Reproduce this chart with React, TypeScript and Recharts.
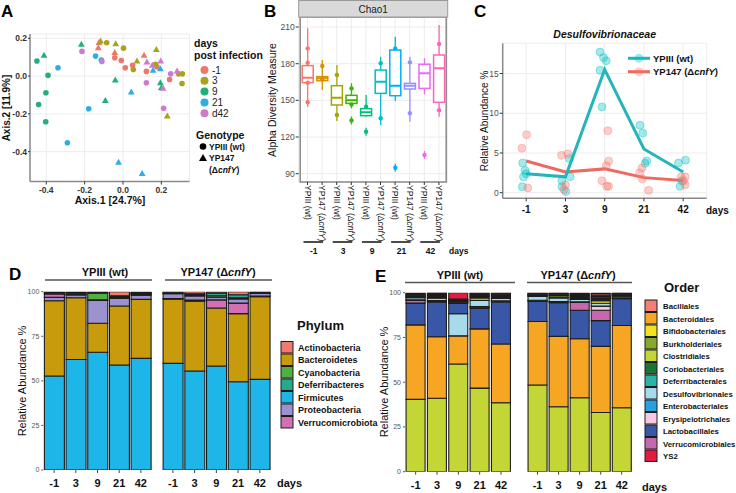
import React from "react";
import {
  ScatterChart,
  Scatter,
  XAxis,
  YAxis,
  CartesianGrid,
  ReferenceArea,
  ComposedChart,
  Bar,
  Line,
  BarChart,
} from "recharts";

const FONT = '"Liberation Sans", Arial, Helvetica, sans-serif';

// ---------- A: PCoA ----------
const dayNames = ["-1", "3", "9", "21", "d42"];
const dayColors = ["#F0766C", "#A8A31C", "#22AF79", "#2FAEE6", "#CC7ACB"];

const wtAxis1 = [-0.449, -0.391, -0.402, -0.44, -0.403, -0.339, -0.143, -0.113, -0.179, -0.29, -0.043, -0.009, 0.012, 0.05, 0.122, 0.177, 0.243, -0.085, 0.003, 0.054, 0.17, 0.29, 0.31, 0.308, -0.214, -0.11, 0.122, 0.249, 0.212];
const wtAxis2 = [0.08, 0.004, -0.088, -0.15, -0.242, 0.044, 0.106, 0.085, -0.173, -0.353, 0.097, 0.083, 0.044, 0.057, 0.025, 0.049, -0.018, 0.177, 0.148, 0.035, 0.062, 0.012, 0.012, -0.039, 0.131, 0.078, -0.035, 0.012, -0.17];
const wtDay = [2, 2, 2, 2, 2, 3, 3, 3, 3, 3, 0, 0, 0, 0, 0, 0, 0, 1, 1, 1, 1, 1, 1, 1, 4, 4, 4, 4, 4];
const mutAxis1 = [-0.412, -0.217, -0.04, -0.092, 0.195, 0.2, 0.043, 0.157, 0.195, -0.023, 0.1, -0.125, -0.129, -0.043, 0.11, -0.117, -0.038, 0.073, 0.174, 0.231, 0.125, 0.153, 0.197, 0.282, 0.209];
const mutAxis2 = [0.11, 0.168, -0.021, -0.129, -0.035, -0.062, -0.085, 0.03, 0.039, -0.456, -0.516, 0.177, 0.15, 0.124, 0.11, 0.186, 0.171, 0.08, 0.141, -0.212, 0.074, 0.057, 0.08, 0.026, -0.065];
const mutDay = [2, 2, 2, 2, 2, 2, 3, 3, 3, 3, 3, 0, 0, 0, 0, 1, 1, 1, 1, 1, 4, 4, 4, 4, 4];

// ---------- B: Chao1 ----------
const chaoGroups = ["-1", "3", "9", "21", "42"];
const chaoColors = ["#F8766D", "#D89000", "#A3A500", "#39B600", "#00BF7D", "#00BFC4", "#00B0F6", "#9590FF", "#E76BF3", "#FF62BC"];
const chaoWhiskerLo = [144.8, 158.5, 133.1, 143.5, 136.6, 129.8, 149.5, 132.5, 154.9, 136.6];
const chaoQ1 = [164.5, 166.1, 146.2, 147.5, 137.5, 155.7, 153.8, 159.3, 159.8, 148.4];
const chaoMedian = [168.5, 168, 152.2, 150, 140.2, 165.3, 162, 162, 172.1, 176.2];
const chaoQ3 = [178.4, 169.4, 162, 154.1, 143.2, 174.8, 191.2, 163.9, 179.5, 187.1];
const chaoWhiskerHi = [208.9, 183, 178.9, 163.9, 154.4, 185.7, 202.1, 185.7, 184.4, 211.6];
const chaoPoints = [
  [192.5, 180.8, 164.5, 148.4],
  [178.1, 168, 167],
  [170.7, 138],
  [159.8, 146.7, 133.6],
  [144.8, 124.4],
  [180.3, 135.3],
  [192.5, 94.9],
  [181.1, 139.4],
  [105.3],
  [196.1, 142],
];

// ---------- C: Desulfovibrionaceae ----------
const cDays = ["-1", "3", "9", "21", "42"];
const wtJitterX = [0.91, 0.97, 1.0, 0.93, 0.9, 2.1, 2.12, 1.91, 1.91, 2.01, 2.88, 2.97, 3.04, 2.88, 2.93, 3.9, 3.97, 4.07, 4.03, 4.88, 5.06, 4.92, 4.97];
const wtPct = [3.75, 2.8, 2.4, 2.0, 0.75, 4.3, 2.0, 1.5, 0.75, 0.15, 17.7, 17.0, 16.6, 15.4, 10.8, 8.5, 7.5, 4.0, 3.7, 3.75, 4.1, 0.8, 1.5];
const mutJitterX = [1.01, 0.89, 1.04, 1.9, 2.06, 2.0, 1.96, 3.08, 3.1, 3.04, 2.93, 3.05, 3.1, 3.95, 3.89, 3.96, 4.12, 4.95, 5.05, 5.01, 5.05];
const mutPct = [7.3, 5.6, 0.6, 4.7, 4.9, 1.0, 0.4, 7.8, 4.0, 3.4, 1.5, 0.8, 0.8, 3.1, 2.5, 1.75, 0.3, 2.0, 2.0, 1.5, 1.0];
const wtMean = [2.4, 2.0, 15.5, 5.5, 2.6];
const mutMean = [4.0, 2.6, 3.0, 1.9, 1.55];

// ---------- D: Phylum ----------
const days = ["-1", "3", "9", "21", "42"];
const phylumNames = ["Actinobacteria", "Bacteroidetes", "Cyanobacteria", "Deferribacteres", "Firmicutes", "Proteobacteria", "Verrucomicrobiota"];
const phylumColors = ["#EF7B6F", "#C89B0C", "#50B041", "#27A98C", "#1EB5E8", "#9C92CF", "#D36FB5"];
const phylumStackWt = ["Firmicutes", "Bacteroidetes", "Proteobacteria", "Verrucomicrobiota", "Cyanobacteria", "Deferribacteres", "Actinobacteria"];
const phylumValuesWt = [
  [52.7, 62, 66, 58.9, 62.6],
  [42.2, 34.6, 16.3, 33.1, 33.1],
  [1.9, 1.6, 12.8, 4.2, 2.4],
  [1.9, 0.4, 0.3, 0.5, 0.4],
  [0.4, 0.5, 3.8, 0.5, 0.5],
  [0.5, 0.5, 0.4, 0.5, 0.5],
  [0.4, 0.4, 0.4, 2.3, 0.5],
];
const phylumStackMut = ["Firmicutes", "Bacteroidetes", "Verrucomicrobiota", "Proteobacteria", "Cyanobacteria", "Deferribacteres", "Actinobacteria"];
const phylumValuesMut = [
  [59.8, 55.5, 58.3, 49.5, 50.8],
  [36, 39.2, 32.6, 38.2, 46.4],
  [0.4, 0.6, 4.5, 5.9, 0.4],
  [2.7, 2.3, 1.5, 2.4, 1.4],
  [0.4, 0.6, 0.8, 0.6, 0.5],
  [0.4, 0.6, 1.5, 1.7, 0.3],
  [0.3, 1.2, 0.8, 1.7, 0.2],
];

// ---------- E: Order ----------
const orderNames = ["Bacillales", "Bacteroidales", "Bifidobacteriales", "Burkholderiales", "Clostridiales", "Coriobacteriales", "Deferribacterales", "Desulfovibrionales", "Enterobacteriales", "Erysipelotrichales", "Lactobacillales", "Verrucomicrobiales", "YS2"];
const orderColors = ["#F27F73", "#F6A623", "#F2E21F", "#87A92B", "#C4D636", "#1B7434", "#2BB3A4", "#A7DAEA", "#2A9FDE", "#F6C9E0", "#3857A7", "#C568AE", "#E51A43"];
const orderStackWt = ["Clostridiales", "Bacteroidales", "Desulfovibrionales", "Lactobacillales", "Verrucomicrobiales", "Erysipelotrichales", "Desulfovibrionales", "Bifidobacteriales", "Burkholderiales", "Coriobacteriales", "Deferribacterales", "Enterobacteriales", "Bacillales", "YS2"];
const orderValuesWt = [
  [40.4, 41, 60.2, 46.7, 38.5],
  [41.6, 34.4, 15.7, 33.1, 32.8],
  [0, 0, 12.3, 0, 0],
  [12.2, 19.5, 5.8, 11.6, 23.5],
  [1.5, 0.4, 0.4, 0.5, 0.4],
  [0.3, 0.3, 0.3, 0.4, 0.3],
  [1.2, 1.3, 0, 3.4, 1.3],
  [0.3, 0.4, 0.3, 1.3, 0.4],
  [0.3, 0.5, 0.3, 0.6, 0.5],
  [0.4, 0.5, 0.3, 0.5, 0.5],
  [0.4, 0.5, 0.3, 0.6, 0.5],
  [0.4, 0.5, 0.3, 0.6, 0.5],
  [0.5, 0.6, 0.2, 0.4, 0.5],
  [0.5, 0.1, 3.6, 0.3, 0.3],
];
const orderStackMut = ["Clostridiales", "Bacteroidales", "Lactobacillales", "Verrucomicrobiales", "Erysipelotrichales", "Desulfovibrionales", "Bifidobacteriales", "Burkholderiales", "Coriobacteriales", "Deferribacterales", "Enterobacteriales", "Bacillales", "YS2"];
const orderValuesMut = [
  [48.4, 36.3, 41.3, 33.1, 35.7],
  [35.5, 39.3, 33, 36.9, 46],
  [11.4, 18.8, 15.9, 14.4, 15],
  [0.3, 0.4, 4.3, 5.8, 0.3],
  [0.2, 0.3, 0.4, 2.3, 0.2],
  [2.1, 1.9, 1.3, 1.6, 0.8],
  [0.3, 0.5, 0.4, 1.5, 0.2],
  [0.3, 0.9, 0.5, 0.8, 0.3],
  [0.3, 0.4, 0.5, 0.7, 0.4],
  [0.3, 0.4, 0.6, 0.8, 0.3],
  [0.3, 0.3, 0.6, 0.7, 0.3],
  [0.3, 0.3, 0.6, 0.8, 0.3],
  [0.3, 0.2, 0.6, 0.6, 0.2],
];

const BORDER = "#8a8a8a";
const GRID = "#ececec";
const B_BAND = 14.6;
const frameLine = { stroke: BORDER, strokeWidth: 1.5 };

function Mut({ italicOnly }: { italicOnly?: boolean }) {
  return (
    <>
      {italicOnly ? null : "YP147 "}(Δ<tspan fontStyle="italic">cnfY</tspan>)
    </>
  );
}

function PanelA() {
  const wt = wtAxis1.map((x, i) => ({ x, y: wtAxis2[i], day: wtDay[i] }));
  const mut = mutAxis1.map((x, i) => ({ x, y: mutAxis2[i], day: mutDay[i] }));
  const tick = { fontSize: 8.5, fill: "#333", fontWeight: "bold", fontFamily: FONT };
  const xDom: [number, number] = [-0.485, 0.347];
  const yDom: [number, number] = [-0.558, 0.223];
  return (
    <div style={{ position: "absolute", left: 0, top: 0 }}>
      <ScatterChart width={190} height={212} margin={{ top: 34, right: 0.5, bottom: 0, left: 0 }}>
        <CartesianGrid stroke={GRID} />
        <XAxis type="number" dataKey="x" domain={xDom} ticks={[-0.4, -0.2, 0, 0.2]} allowDataOverflow tickFormatter={(v: number) => v.toFixed(1)} height={30.5} tick={tick} tickLine={{ stroke: "#333" }} tickSize={3} axisLine={frameLine} />
        <XAxis xAxisId="top" orientation="top" type="number" domain={xDom} allowDataOverflow height={0} tick={false} tickLine={false} axisLine={frameLine} />
        <YAxis type="number" dataKey="y" domain={yDom} ticks={[-0.4, -0.2, 0, 0.2]} allowDataOverflow tickFormatter={(v: number) => v.toFixed(1)} width={30} tick={tick} tickLine={{ stroke: "#333" }} tickSize={2} tickMargin={1} axisLine={frameLine} />
        <YAxis yAxisId="right" orientation="right" type="number" domain={yDom} allowDataOverflow width={0} tick={false} tickLine={false} axisLine={frameLine} />
        <Scatter
          data={wt}
          isAnimationActive={false}
          shape={(p: any) => <circle cx={p.cx} cy={p.cy} r={2.8} fill={dayColors[p.payload.day]} />}
        />
        <Scatter
          data={mut}
          isAnimationActive={false}
          shape={(p: any) => (
            <polygon
              points={`${p.cx},${p.cy - 3.6} ${p.cx - 3.4},${p.cy + 2.4} ${p.cx + 3.4},${p.cy + 2.4}`}
              fill={dayColors[p.payload.day]}
            />
          )}
        />
      </ScatterChart>
    </div>
  );
}

function BoxShape(props: any) {
  const { x, y, width, height, payload, index } = props;
  const top = Math.min(y, y + height);
  const bot = Math.max(y, y + height);
  const hi = payload.whi;
  const lo = payload.wlo;
  const py = (v: number) => top + ((hi - v) / (hi - lo)) * (bot - top);
  const cx = x + width / 2;
  const c = chaoColors[index];
  return (
    <g>
      <line x1={cx} x2={cx} y1={py(hi)} y2={py(lo)} stroke={c} strokeWidth={1.3} />
      <rect x={x} y={py(payload.q3)} width={width} height={py(payload.q1) - py(payload.q3)} fill="#fff" stroke={c} strokeWidth={1.5} />
      <line x1={x} x2={x + width} y1={py(payload.med)} y2={py(payload.med)} stroke={c} strokeWidth={2} />
      {payload.pts.map((v: number, k: number) => {
        const out = v < lo || v > hi;
        return (
          <g key={k}>
            {out ? <line x1={cx} x2={cx} y1={py(v) - 4} y2={py(v) + 4} stroke={c} strokeWidth={1.3} /> : null}
            <circle cx={cx} cy={py(v)} r={2.2} fill={c} />
          </g>
        );
      })}
    </g>
  );
}

function ChaoTick(props: any) {
  const { x, y, index } = props;
  const isMut = index % 2 === 1;
  return (
    <g fontFamily={FONT}>
      <text transform={`translate(${x - 3},${y}) rotate(90)`} fontSize={8.5} fill="#1a1a1a">
        {isMut ? <Mut /> : "YPIII (wt)"}
      </text>
      {isMut ? (
        <>
          <line x1={x - B_BAND - 4} x2={x + 1} y1={y + 57} y2={y + 57} stroke="#111" strokeWidth={1.5} />
          <text x={x - B_BAND / 2 - 1} y={y + 69} textAnchor="middle" fontSize={8.5} fontWeight="bold" fill="#111">
            {chaoGroups[(index - 1) / 2]}
          </text>
        </>
      ) : null}
    </g>
  );
}

function PanelB() {
  const data = chaoColors.map((_, i) => ({
    id: `g${i}`,
    wlo: chaoWhiskerLo[i],
    whi: chaoWhiskerHi[i],
    q1: chaoQ1[i],
    q3: chaoQ3[i],
    med: chaoMedian[i],
    pts: chaoPoints[i],
  }));
  return (
    <div style={{ position: "absolute", left: 262, top: 0 }}>
      <ComposedChart width={186} height={262} data={data} margin={{ top: 17, right: 0.3, bottom: 0, left: 0 }}>
        <CartesianGrid stroke={GRID} />
        <XAxis dataKey="id" type="category" interval={0} height={80} padding={{ left: 1.5, right: 1.5 }} tick={<ChaoTick />} tickLine={{ stroke: "#333" }} tickSize={3} tickMargin={0} axisLine={false} />
        <YAxis type="number" domain={[83.2, 218.2]} ticks={[90, 120, 150, 180, 210]} allowDataOverflow width={36.7} tick={{ fontSize: 8.5, fill: "#4d4d4d", fontFamily: FONT }} tickLine={{ stroke: "#333" }} tickSize={3} tickMargin={1} axisLine={false} />
        <ReferenceArea y1={83.2} y2={218.2} fill="none" stroke={BORDER} strokeWidth={1.5} ifOverflow="visible" />
        <Bar dataKey={(d: any) => [d.wlo, d.whi]} barSize={11} shape={<BoxShape />} isAnimationActive={false} />
      </ComposedChart>
    </div>
  );
}

function PanelC() {
  const rows = wtMean.map((v, i) => ({ x: i + 1, wt: v, mut: mutMean[i] }));
  const wtPts = wtJitterX.map((x, i) => ({ x, y: wtPct[i] }));
  const mutPts = mutJitterX.map((x, i) => ({ x, y: mutPct[i] }));
  const xDom: [number, number] = [0.4, 5.6];
  const yDom: [number, number] = [-0.7, 18.8];
  const dot = (color: string) => (p: any) => (
    <circle cx={p.cx} cy={p.cy} r={4} fill={color} fillOpacity={0.35} stroke={color} strokeOpacity={0.45} strokeWidth={0.8} />
  );
  return (
    <div style={{ position: "absolute", left: 480, top: 30 }}>
      <ComposedChart width={228} height={193.3} data={rows} margin={{ top: 13.3, right: 1.3, bottom: 0, left: 0 }}>
        <CartesianGrid stroke={GRID} />
        <XAxis type="number" dataKey="x" domain={xDom} ticks={[1, 2, 3, 4, 5]} allowDataOverflow tickFormatter={(v: number) => cDays[v - 1]} height={25} tick={{ fontSize: 10, fontWeight: "bold", fill: "#111", fontFamily: FONT }} tickLine={{ stroke: "#333" }} tickSize={3} tickMargin={5} axisLine={frameLine} />
        <XAxis xAxisId="top" orientation="top" type="number" domain={xDom} allowDataOverflow height={0} tick={false} tickLine={false} axisLine={frameLine} />
        <YAxis type="number" domain={yDom} ticks={[0, 5, 10, 15]} allowDataOverflow width={22.7} tick={{ fontSize: 8.5, fill: "#4d4d4d", fontFamily: FONT }} tickLine={{ stroke: "#333" }} tickSize={3} tickMargin={1} axisLine={frameLine} />
        <YAxis yAxisId="right" orientation="right" type="number" domain={yDom} allowDataOverflow width={0} tick={false} tickLine={false} axisLine={frameLine} />
        <Scatter data={wtPts} dataKey="y" isAnimationActive={false} shape={dot("#00BFC4")} />
        <Scatter data={mutPts} dataKey="y" isAnimationActive={false} shape={dot("#F8766D")} />
        <Line dataKey="mut" stroke="#EC6A5F" strokeWidth={3} dot={false} isAnimationActive={false} />
        <Line dataKey="wt" stroke="#22B5BC" strokeWidth={3} dot={false} isAnimationActive={false} />
      </ComposedChart>
    </div>
  );
}

function DayTick(props: any) {
  const { x, y, payload } = props;
  return (
    <text x={x} y={y + 12} textAnchor="middle" fontSize={11} fontWeight="bold" fill="#111" fontFamily={FONT}>
      {payload.value}
    </text>
  );
}

function Facet(props: {
  left: number;
  top: number;
  width: number;
  height: number;
  yWidth: number;
  showY: boolean;
  stack: string[];
  values: number[][];
  names: string[];
  colors: string[];
}) {
  const { left, top, width, height, yWidth, showY, stack, values, names, colors } = props;
  const data = days.map((d, i) => {
    const row: any = { day: d };
    stack.forEach((_, s) => {
      row[`s${s}`] = values[s][i];
    });
    return row;
  });
  return (
    <div style={{ position: "absolute", left, top }}>
      <BarChart width={width} height={height} data={data} margin={{ top: 6.7, right: 0.3, bottom: 0, left: 0 }} barCategoryGap="5%">
        <XAxis dataKey="day" interval={0} height={20} tick={<DayTick />} tickLine={{ stroke: "#444" }} tickSize={3} tickMargin={2} axisLine={false} />
        <YAxis hide={!showY} width={yWidth} type="number" domain={[0, 100]} ticks={[0, 25, 50, 75, 100]} allowDataOverflow tick={{ fontSize: 7, fill: "#555", fontFamily: FONT }} tickLine={{ stroke: "#555" }} tickSize={2} axisLine={false} />
        {stack.map((name, s) => (
          <Bar key={`s${s}`} dataKey={`s${s}`} stackId="a" fill={colors[names.indexOf(name)]} stroke="#1c1c1c" strokeWidth={1.1} isAnimationActive={false} />
        ))}
      </BarChart>
    </div>
  );
}

function Overlay() {
  const letter = { fontSize: 17, fontWeight: "bold" as const, fill: "#000" };
  return (
    <svg width={736} height={493} style={{ position: "absolute", left: 0, top: 0, pointerEvents: "none" }} fontFamily={FONT}>
      {/* panel letters */}
      <text x={1} y={17} {...letter}>A</text>
      <text x={264} y={17} {...letter}>B</text>
      <text x={474} y={17} {...letter}>C</text>
      <text x={9} y={280} {...letter}>D</text>
      <text x={375} y={282} {...letter}>E</text>

      {/* A titles + legend */}
      <text x={110} y={204} textAnchor="middle" fontSize={10.5} fontWeight="bold" fill="#111">Axis.1   [24.7%]</text>
      <text transform="translate(10,108) rotate(-90)" textAnchor="middle" fontSize={10} fontWeight="bold" fill="#111">Axis.2   [11.9%]</text>
      <text x={194} y={47} fontSize={10.5} fontWeight="bold" fill="#111">days</text>
      <text x={194} y={58.5} fontSize={10.5} fontWeight="bold" fill="#111">post infection</text>
      {dayNames.map((d, i) => (
        <g key={d}>
          <circle cx={204.5} cy={70 + i * 10.8} r={4} fill={dayColors[i]} />
          <text x={212} y={73.5 + i * 10.8} fontSize={10} fill="#222">{d}</text>
        </g>
      ))}
      <text x={196} y={139} fontSize={10.5} fontWeight="bold" fill="#111">Genotype</text>
      <circle cx={203} cy={146.5} r={3.3} fill="#000" />
      <text x={209} y={149.5} fontSize={8.5} fontWeight="bold" fill="#111">YPIII (wt)</text>
      <polygon points="203,154 199,161 207,161" fill="#000" />
      <text x={209} y={161} fontSize={8.5} fontWeight="bold" fill="#111">YP147</text>
      <text x={209} y={172.5} fontSize={8.5} fontWeight="bold" fill="#111"><Mut italicOnly /></text>

      {/* B strip + titles */}
      <rect x={298.7} y={0.5} width={149} height={16.5} fill="#d9d9d9" stroke="#9a9a9a" strokeWidth={1} />
      <text x={373.2} y={12.5} textAnchor="middle" fontSize={10} fill="#1a1a1a">Chao1</text>
      <text transform="translate(276,100) rotate(-90)" textAnchor="middle" fontSize={10.5} fill="#111">Alpha Diversity Measure</text>
      <text x={449} y={254} fontSize={8.5} fontWeight="bold" fill="#111">days</text>

      {/* C titles + legend */}
      <text x={604.7} y={38} textAnchor="middle" fontSize={10.5} fontWeight="bold" fontStyle="italic" fill="#111">Desulfovibrionaceae</text>
      <text transform="translate(488,121) rotate(-90)" textAnchor="middle" fontSize={10} fill="#111">Relative Abundance %</text>
      <text x={706} y={214} fontSize={10} fontWeight="bold" fill="#111">days</text>
      <line x1={628} x2={650} y1={58.3} y2={58.3} stroke="#22B5BC" strokeWidth={3} />
      <circle cx={639} cy={58.3} r={4.5} fill="#00BFC4" fillOpacity={0.35} />
      <text x={653} y={61.8} fontSize={9.5} fontWeight="bold" fill="#111">YPIII (wt)</text>
      <line x1={628} x2={650} y1={71.7} y2={71.7} stroke="#EC6A5F" strokeWidth={3} />
      <circle cx={639} cy={71.7} r={4.5} fill="#F8766D" fillOpacity={0.35} />
      <text x={653} y={75.2} fontSize={9.5} fontWeight="bold" fill="#111"><Mut /></text>

      {/* D headers, titles, legend */}
      <text x={105} y={276} textAnchor="middle" fontSize={11} fontWeight="bold" fill="#111">YPIII (wt)</text>
      <line x1={45} x2={152} y1={280} y2={280} stroke="#555" strokeWidth={1.3} />
      <text x={218} y={276} textAnchor="middle" fontSize={11} fontWeight="bold" fill="#111"><Mut /></text>
      <line x1={165} x2={272} y1={280} y2={280} stroke="#555" strokeWidth={1.3} />
      <text transform="translate(26,381) rotate(-90)" textAnchor="middle" fontSize={11} fill="#111">Relative Abundance %</text>
      <text x={277} y={487} fontSize={11} fontWeight="bold" fill="#111">days</text>
      <text x={297} y={330} fontSize={13} fontWeight="bold" fill="#111">Phylum</text>
      {phylumNames.map((n, i) => (
        <g key={n}>
          <rect x={281} y={341.5 + i * 12.5} width={12} height={11.5} fill={phylumColors[i]} stroke="#1c1c1c" strokeWidth={1} />
          <text x={298} y={350.5 + i * 12.5} fontSize={9} fontWeight="bold" fill="#111">{n}</text>
        </g>
      ))}

      {/* E headers, titles, legend */}
      <text x={460} y={279} textAnchor="middle" fontSize={11} fontWeight="bold" fill="#111">YPIII (wt)</text>
      <line x1={405} x2={515} y1={282.5} y2={282.5} stroke="#555" strokeWidth={1.3} />
      <text x={578} y={279} textAnchor="middle" fontSize={11} fontWeight="bold" fill="#111"><Mut /></text>
      <line x1={527} x2={632} y1={282.5} y2={282.5} stroke="#555" strokeWidth={1.3} />
      <text transform="translate(388,382) rotate(-90)" textAnchor="middle" fontSize={11} fill="#111">Relative Abundance %</text>
      <text x={642} y={491} fontSize={11} fontWeight="bold" fill="#111">days</text>
      <text x={664} y={292} fontSize={13} fontWeight="bold" fill="#111">Order</text>
      {orderNames.map((n, i) => (
        <g key={n}>
          <rect x={645} y={300 + i * 12.5} width={12} height={11.5} fill={orderColors[i]} stroke="#1c1c1c" strokeWidth={1} />
          <text x={663} y={309 + i * 12.5} fontSize={7.8} fontWeight="bold" fill="#111">{n}</text>
        </g>
      ))}
    </svg>
  );
}

export default function App() {
  return (
    <div style={{ position: "absolute", left: 0, top: 0, width: 736, height: 493, overflow: "hidden", background: "#fff", fontFamily: FONT }}>
      <PanelA />
      <PanelB />
      <PanelC />
      <Facet left={0} top={285} width={152} height={205} yWidth={43.3} showY stack={phylumStackWt} values={phylumValuesWt} names={phylumNames} colors={phylumColors} />
      <Facet left={162} top={285} width={109} height={205} yWidth={0} showY={false} stack={phylumStackMut} values={phylumValuesMut} names={phylumNames} colors={phylumColors} />
      <Facet left={362} top={286} width={150} height={205.7} yWidth={43} showY stack={orderStackWt} values={orderValuesWt} names={orderNames} colors={orderColors} />
      <Facet left={526.7} top={286} width={105.6} height={205.7} yWidth={0} showY={false} stack={orderStackMut} values={orderValuesMut} names={orderNames} colors={orderColors} />
      <Overlay />
    </div>
  );
}
